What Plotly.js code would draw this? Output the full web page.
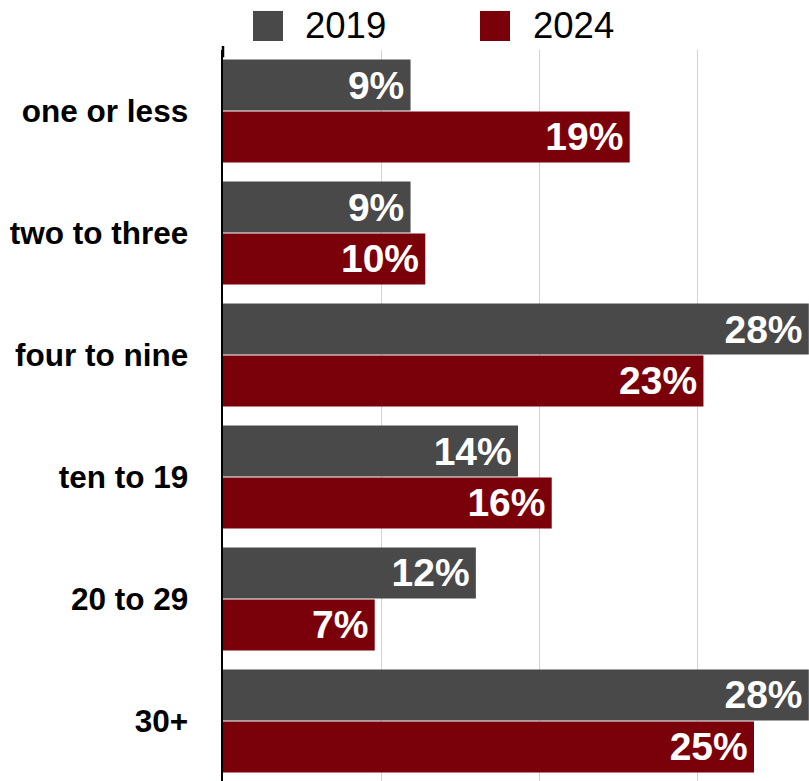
<!DOCTYPE html>
<html>
<head>
<meta charset="utf-8">
<script src="https://cdn.plot.ly/plotly-3.0.1.min.js"></script>
<style>html,body{margin:0;padding:0;background:#fff;}#chart{width:809px;height:781px;}</style>
</head>
<body>
<div id="chart"></div>
<script>
const categories = ["one or less", "two to three", "four to nine", "ten to 19", "20 to 29", "30+"];
const seriesNames = ["2019", "2024"];
const values2019 = [8.9, 8.9, 27.8, 14.0, 12.0, 27.8];
const values2024 = [19.3, 9.6, 22.8, 15.6, 7.2, 25.2];
const colors = ["#494949", "#7a0009"];

const FONT = "'Liberation Sans', Arial, sans-serif";

function barTrace(name, vals, color) {
  return {
    type: "bar",
    orientation: "h",
    name: name,
    y: categories,
    x: vals,
    marker: {color: color},
    texttemplate: "%{x:.0f}%\u200A",
    textposition: "inside",
    insidetextanchor: "end",
    textangle: 0,
    constraintext: "none",
    textfont: {family: FONT, size: 39, color: "#ffffff", weight: "bold"},
    hoverinfo: "skip"
  };
}

const data = [
  barTrace(seriesNames[0], values2019, colors[0]),
  barTrace(seriesNames[1], values2024, colors[1])
];

const legendPos = [
  {sq: [0.0512, 0.1024], tx: 0.1365},
  {sq: [0.4386, 0.4898], tx: 0.5256}
];
const shapes = [], annotations = [];
seriesNames.forEach((n, i) => {
  shapes.push({type: "rect", xref: "paper", yref: "paper",
    x0: legendPos[i].sq[0], x1: legendPos[i].sq[1], y0: 1.0123, y1: 1.0534,
    fillcolor: colors[i], line: {width: 0}});
  annotations.push({xref: "paper", yref: "paper", x: legendPos[i].tx, y: 1.0339,
    xanchor: "left", yanchor: "middle", showarrow: false, text: n,
    font: {family: FONT, size: 36.5, color: "#000"}});
});
shapes.push({type: "line", xref: "paper", yref: "paper", x0: 0, x1: 0, y0: 0.99, y1: 1.0055,
  line: {color: "#000", width: 2.5}});

const layout = {
  width: 809, height: 781,
  margin: {l: 223, r: 0, t: 50, b: 0, pad: 0},
  paper_bgcolor: "#fff", plot_bgcolor: "#fff",
  barmode: "group", bargap: 0.148, bargroupgap: 0.02,
  showlegend: false,
  xaxis: {range: [0, 27.81], dtick: 7.5, tick0: 0, showgrid: true, gridcolor: "#d3d3d3", gridwidth: 1,
    showticklabels: false, zeroline: false, showline: false, ticks: ""},
  yaxis: {type: "category", range: [5.492, -0.5], autorange: false, showline: true, linecolor: "#000", linewidth: 2.5,
    ticks: "", ticklabelstandoff: 26, showgrid: false,
    tickfont: {family: FONT, size: 31.5, color: "#000", weight: "bold"}},
  shapes: shapes,
  annotations: annotations,
  font: {family: FONT}
};

Plotly.newPlot("chart", data, layout, {staticPlot: true, displayModeBar: false});
</script>
</body>
</html>
